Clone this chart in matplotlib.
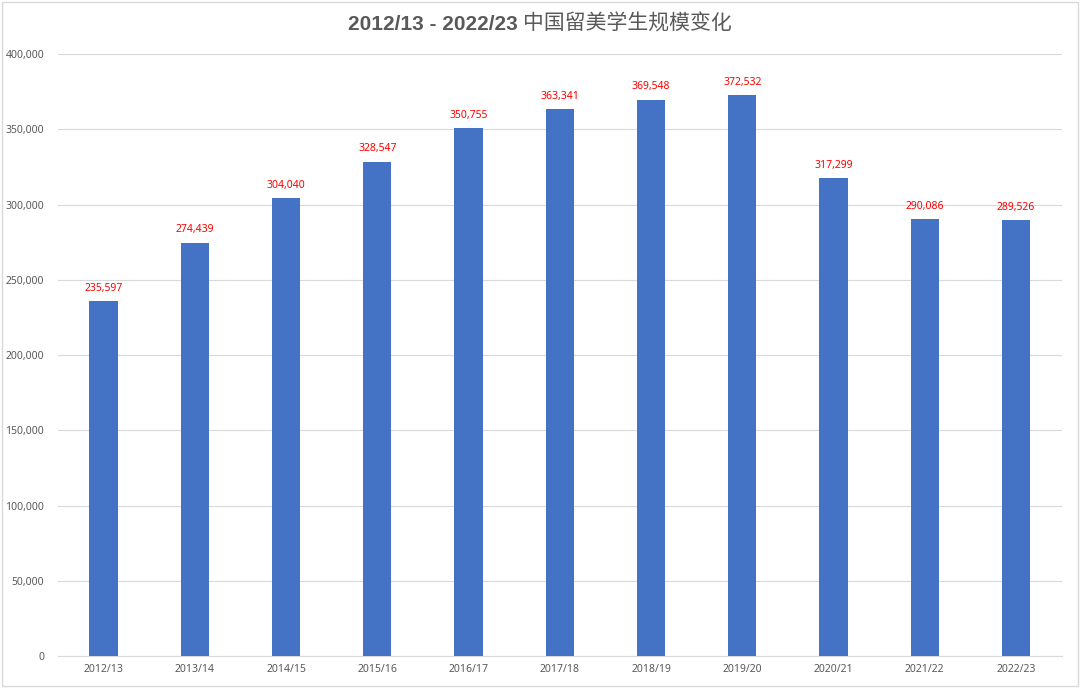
import matplotlib
matplotlib.use("Agg")
import matplotlib.pyplot as plt
from matplotlib.patches import Rectangle
from matplotlib.ticker import FuncFormatter, MultipleLocator

years = ["2012/13", "2013/14", "2014/15", "2015/16", "2016/17", "2017/18",
         "2018/19", "2019/20", "2020/21", "2021/22", "2022/23"]
students = [235597, 274439, 304040, 328547, 350755, 363341,
            369548, 372532, 317299, 290086, 289526]
title_latin = "2012/13 - 2022/23 "
title_cjk = "中国留美学生规模变化"

plt.rcParams['font.family'] = ['Noto Sans', 'Noto Sans CJK SC', 'DejaVu Sans']

fig = plt.figure(figsize=(10.8, 6.88), dpi=100)
ax = fig.add_axes([0.0537, 0.0465, 0.9293, 0.875])

x = range(len(years))
ax.bar(x, students, width=0.31, color="#4472C4", zorder=3)

for i, v in enumerate(students):
    ax.text(i, v + 5000, f"{v:,}", ha="center", va="bottom",
            color="#FF0000", fontsize=7.5, fontweight="semibold")

ax.set_xlim(-0.5, len(years) - 0.5)
ax.set_ylim(0, 400000)
ax.yaxis.set_major_locator(MultipleLocator(50000))
ax.yaxis.set_major_formatter(FuncFormatter(lambda v, p: f"{int(v):,}"))
ax.set_xticks(list(x))
ax.set_xticklabels(years)
ax.tick_params(axis="both", length=0, labelsize=7.5, colors="#595959")
ax.tick_params(axis="x", pad=6)
ax.tick_params(axis="y", pad=10)
ax.grid(axis="y", color="#D9D9D9", linewidth=0.8, zorder=0)
for s in ["top", "right", "left"]:
    ax.spines[s].set_visible(False)
ax.spines["bottom"].set_color("#D9D9D9")

# title: bold latin part + regular CJK part, centred together
renderer = fig.canvas.get_renderer()
t1 = fig.text(0, 0.965, title_latin, ha="left", va="center", fontsize=15,
              fontweight="bold", color="#595959", family=["Liberation Sans", "DejaVu Sans"])
t2 = fig.text(0, 0.965, title_cjk, ha="left", va="center", fontsize=15,
              color="#595959", family=["Noto Sans CJK SC", "DejaVu Sans"])
w1 = t1.get_window_extent(renderer).width / fig.bbox.width
w2 = t2.get_window_extent(renderer).width / fig.bbox.width
start = 0.5 - (w1 + w2) / 2
t1.set_x(start)
t2.set_x(start + w1)

fig.patches.append(Rectangle((0.002, 0.003), 0.996, 0.994, transform=fig.transFigure,
                             fill=False, edgecolor="#D9D9D9", linewidth=1))

fig.savefig("out.png", dpi=100)
